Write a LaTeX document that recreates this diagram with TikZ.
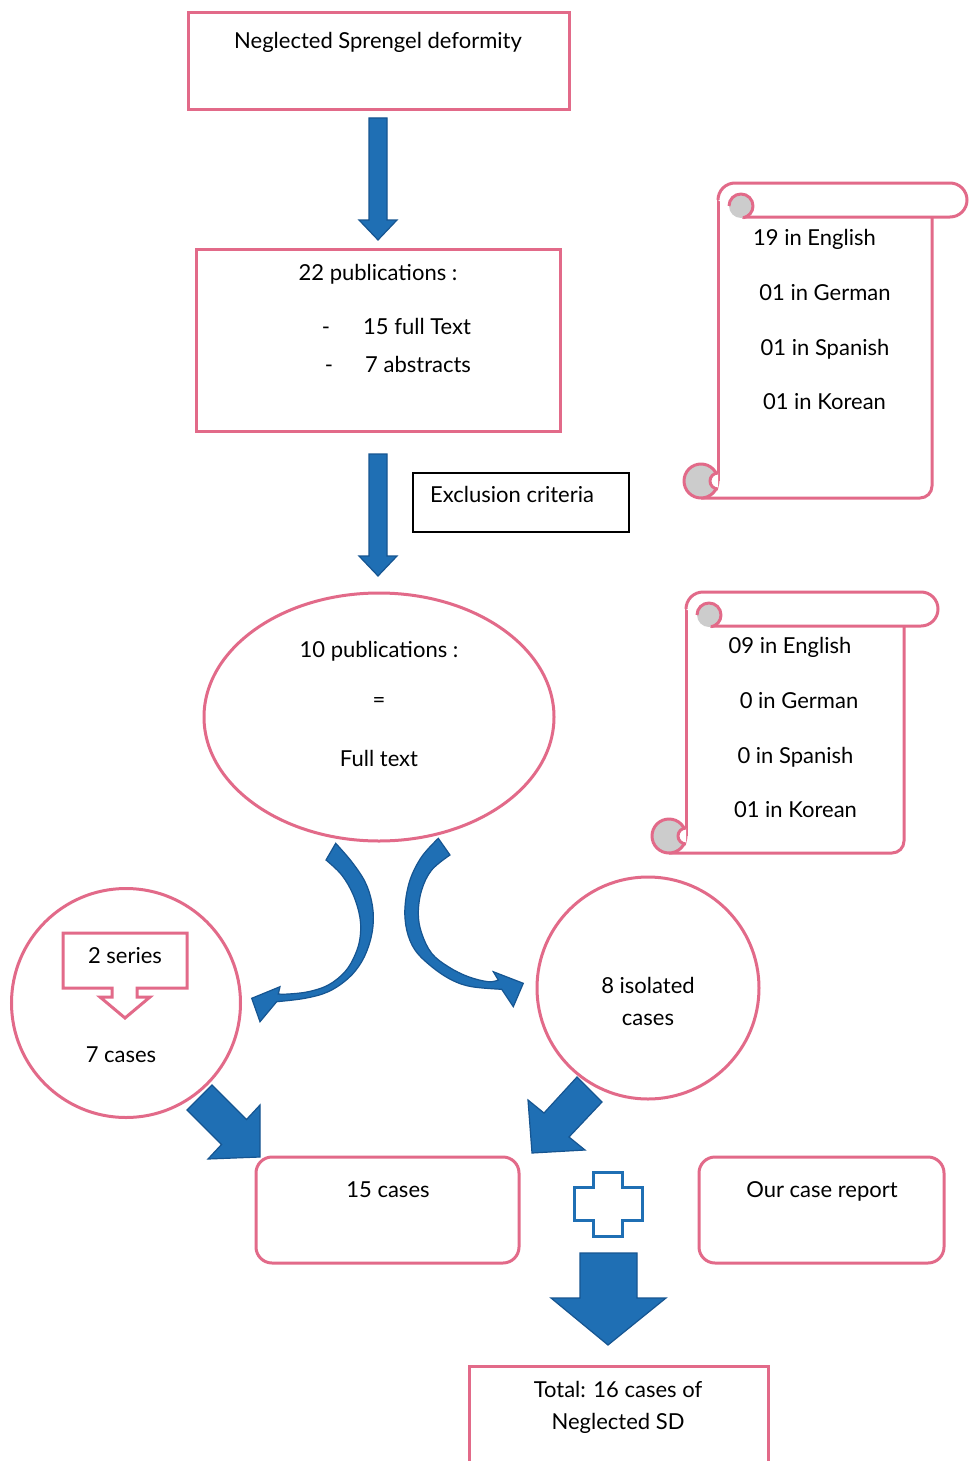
\documentclass[tikz,border=0pt]{standalone}
\usepackage{fontspec}
\setmainfont{Lato}
\usetikzlibrary{shapes.geometric}
\definecolor{pinkline}{RGB}{226,106,137}
\definecolor{bluefill}{RGB}{31,111,180}
\definecolor{blueline}{RGB}{22,85,145}
\definecolor{curlgray}{RGB}{204,204,204}
\newcommand\myscroll[5]{%
 \fill[white] (#1,#4+17) rectangle (#2,#5);
 \draw[scrollline] (#1,#4+17) -- (#1,#5-17);
 \draw[scrollline] (#1-17,#5) -- (#2-12,#5) arc[start angle=90,end angle=0,radius=12] -- (#2,#4+34);
 \filldraw[scrollline,fill=white] (#1,#4+17) arc[start angle=180,end angle=270,radius=17] -- (#3-17,#4) arc[start angle=-90,end angle=90,radius=17] -- (#1+24,#4+34);
 \fill[curlgray] (#1+23,#4+23) circle[radius=12];
 \draw[scrollline] (#1+11,#4+23) arc[start angle=180,end angle=440,radius=12];
 \filldraw[scrollline,fill=curlgray] (#1-17,#5-17) circle[radius=17];
 \filldraw[scrollline,fill=white] (#1,#5-25) arc[start angle=270,end angle=90,radius=8];
}
\begin{document}
\begin{tikzpicture}[x=1pt,y=-1pt,
  pinkbox/.style={draw=pinkline, line width=3pt, fill=white, inner sep=0pt},
  scrollline/.style={draw=pinkline, line width=3pt, line join=round},
  txt/.style={font=\fontsize{22}{26}\selectfont, inner sep=0pt, anchor=base, text=black},
  blockarrow/.style={fill=bluefill, draw=blueline, line width=1.2pt, line join=miter}]
\useasboundingbox (0,0) rectangle (969,1461);
\clip (0,0) rectangle (969,1461);
\fill[white] (0,0) rectangle (969,1461);

% top box
\node[pinkbox, minimum width=381pt, minimum height=97pt] (top) at (378.5,61.5) {};
\node[txt] (toptxt) at (378,49) {Neglected Sprengel deformity};

% arrow 1
\draw[blockarrow] (369,118) -- (387,118) -- (387,220) -- (397,220) -- (378,240) -- (359,220) -- (369,220) -- cycle;

% box 2
\node[pinkbox, minimum width=364pt, minimum height=182pt] (pubs) at (378,340) {};
\node[txt] (pubstxt) at (378,280) {22 publications :};
\node[txt] (dash1) at (326,334) {-};
\node[txt, anchor=base west] (full) at (363,334) {15 full Text};
\node[txt] (dash2) at (329,372) {-};
\node[txt, anchor=base west] (abs) at (365,372) {7 abstracts};

% arrow 2
\draw[blockarrow] (369,454) -- (387,454) -- (387,556) -- (397,556) -- (378,576) -- (359,556) -- (369,556) -- cycle;

% exclusion
\node[draw=black, line width=1.5pt, minimum width=216pt, minimum height=59pt, inner sep=0pt] (excl) at (521,502.5) {};
\node[txt, anchor=base west] (excltxt) at (430,502) {Exclusion criteria};

% scroll 1
\myscroll{718}{932}{967}{183}{498}
\node[txt] (s1a) at (814.5,245) {19 in English};
\node[txt] (s1b) at (825,300) {01 in German};
\node[txt] (s1c) at (825,355) {01 in Spanish};
\node[txt] (s1d) at (824.5,409) {01 in Korean};

% ellipse
\node[pinkbox, ellipse, minimum width=350pt, minimum height=248pt] (ell) at (379,717) {};
\node[txt] (e1) at (379,657) {10 publications :};
\node[txt] (e2) at (379,707) {=};
\node[txt] (e3) at (379,766) {Full text};

% scroll 2
\myscroll{686}{904}{938}{592}{853}
\node[txt] (s2a) at (790,653) {09 in English};
\node[txt] (s2b) at (799,708) {0 in German};
\node[txt] (s2c) at (795.5,763) {0 in Spanish};
\node[txt] (s2d) at (795.5,817) {01 in Korean};

% curved arrows
\draw[blockarrow] plot[smooth, tension=0.6] coordinates {(326,860) (341.7,875) (353.3,895) (360,918) (360,938) (355,955) (345,971.7) (328.3,985) (308.3,991.7) (288.3,994) (278.3,994)} -- (280,986.7) -- (251.7,998.3) -- (260,1021.7) -- plot[smooth, tension=0.6] coordinates {(276.7,1001.7) (305,998.3) (328.3,991.7) (348.3,978.3) (361.7,961.7) (370,941.7) (373.3,921.7) (371.7,901.7) (365,881.7) (351.7,861.7) (335.7,843.3)} -- cycle;
\draw[blockarrow] plot[smooth, tension=0.6] coordinates {(450,855) (431.7,870) (421.7,890) (418.3,913.3) (421.7,933.3) (431.7,953.3) (448.3,966.7) (468.3,976.7) (488.3,981.7) (498.3,980)} -- (493.3,971.7) -- (523.3,983.3) -- (513.3,1006.7) -- plot[smooth, tension=0.6] coordinates {(501.7,989.3) (471.7,986.7) (451.7,980) (431.7,966.7) (415,950) (406.7,930) (405,906.7) (410,880) (421.7,856.7) (438.3,838.3)} -- cycle;

% left circle
\node[pinkbox, circle, minimum size=229pt] (cl) at (126,1003) {};
\filldraw[draw=pinkline, line width=3pt, fill=white, line join=miter] (63,933) -- (187,933) -- (187,988) -- (137,988) -- (137,997) -- (150,997) -- (125,1018) -- (100,997) -- (112,997) -- (112,988) -- (63,988) -- cycle;
\node[txt] (series) at (125,963) {2 series};
\node[txt] (seven) at (121,1062) {7 cases};

% right circle
\node[pinkbox, circle, minimum size=222pt] (cr) at (648,988) {};
\node[txt] (iso1) at (648,993) {8 isolated};
\node[txt] (iso2) at (648,1025) {cases};

% diagonal arrows
\draw[blockarrow] (187,1110) -- (212,1085) -- (246.5,1119.5) -- (260,1105) -- (260,1157) -- (208,1159) -- (221.5,1144.5) -- cycle;
\draw[blockarrow] (577,1077) -- (602,1102) -- (569,1137) -- (585,1150) -- (532,1153) -- (528,1100) -- (544,1113) -- cycle;

% 15 cases box
\node[pinkbox, rounded corners=16pt, minimum width=263pt, minimum height=106pt] (fifteen) at (387.5,1210) {};
\node[txt] (fifteentxt) at (388,1197) {15 cases};

% our case report
\node[pinkbox, rounded corners=16pt, minimum width=245pt, minimum height=106pt] (our) at (821.5,1210) {};
\node[txt] (ourtxt) at (822,1197) {Our case report};

% plus
\draw[draw=bluefill, line width=3pt, fill=white, line join=miter] (593,1172) -- (622,1172) -- (622,1187) -- (642,1187) -- (642,1220) -- (622,1220) -- (622,1236) -- (593,1236) -- (593,1220) -- (574,1220) -- (574,1187) -- (593,1187) -- cycle;

% big down arrow
\draw[blockarrow] (580,1253) -- (637,1253) -- (637,1298) -- (666,1298) -- (608,1345) -- (551,1298) -- (580,1298) -- cycle;

% total
\node[pinkbox, minimum width=299pt, minimum height=120pt] (total) at (618.5,1426) {};
\node[txt] (tot1) at (618,1397) {Total: 16 cases of};
\node[txt] (tot2) at (618,1429) {Neglected SD};
\end{tikzpicture}
\end{document}
